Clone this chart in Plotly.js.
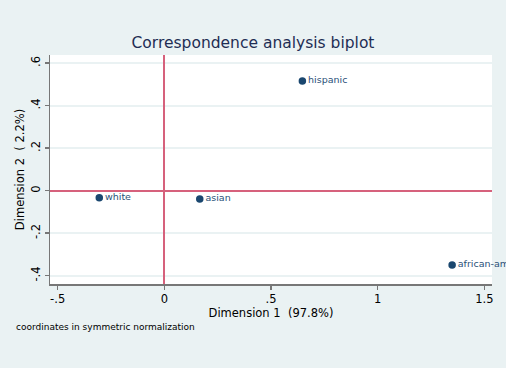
<!DOCTYPE html>
<html>
<head>
<meta charset="utf-8">
<script src="https://cdn.plot.ly/plotly-3.0.1.min.js"></script>
<style>html,body{margin:0;padding:0;background:#eaf2f3;}#chart{width:506px;height:368px;}</style>
</head>
<body>
<div id="chart"></div>
<script>
var categories = ["white", "asian", "hispanic", "african-american"];
var dim1 = [-0.305, 0.166, 0.647, 1.349];
var dim2 = [-0.033, -0.039, 0.516, -0.350];
var xTickVals = [-0.5, 0, 0.5, 1, 1.5];
var xTickText = ["-.5", "0", ".5", "1", "1.5"];
var yTickVals = [-0.4, -0.2, 0, 0.2, 0.4, 0.6];
var yTickText = ["-.4", "-.2", "0", ".2", ".4", ".6"];

var font = "DejaVu Sans, Verdana, sans-serif";
var trace = {
  x: dim1, y: dim2, text: categories,
  type: "scatter", mode: "markers+text",
  textposition: "middle right",
  cliponaxis: false,
  marker: {color: "#1a476f", size: 7.5},
  textfont: {family: font, size: 9.5, color: "#2a5078"},
  hoverinfo: "none"
};
var layout = {
  width: 506, height: 368,
  paper_bgcolor: "#eaf2f3", plot_bgcolor: "#ffffff",
  margin: {l: 50, r: 14, t: 55, b: 84},
  showlegend: false,
  font: {family: font, color: "#000"},
  title: {text: "Correspondence analysis biplot", font: {family: font, size: 15.5, color: "#1e2d53"}, x: 0.5, xanchor: "center", y: 0.885, yanchor: "middle"},
  xaxis: {
    range: [-0.536, 1.536], tickvals: xTickVals, ticktext: xTickText,
    showgrid: false, zeroline: true, zerolinecolor: "#d6617c", zerolinewidth: 2,
    showline: true, linecolor: "#777777", linewidth: 1.5,
    ticks: "outside", ticklen: 4, tickwidth: 1.5, tickcolor: "#777777",
    tickfont: {family: font, size: 11.5, color: "#000"},
    title: {text: "Dimension 1  (97.8%)", font: {family: font, size: 11.5, color: "#000"}, standoff: 2}
  },
  yaxis: {
    range: [-0.439, 0.6386], tickvals: yTickVals, ticktext: yTickText,
    tickangle: -90,
    showgrid: true, gridcolor: "#eaf2f3", gridwidth: 2,
    zeroline: true, zerolinecolor: "#d6617c", zerolinewidth: 2,
    showline: true, linecolor: "#777777", linewidth: 1.5,
    ticks: "outside", ticklen: 4, tickwidth: 1.5, tickcolor: "#777777",
    tickfont: {family: font, size: 11.5, color: "#000"},
    title: {text: "Dimension 2  ( 2.2%)", font: {family: font, size: 11.5, color: "#000"}, standoff: 2}
  },
  annotations: [{
    text: "coordinates in symmetric normalization", xref: "paper", yref: "paper",
    x: -0.081, y: -0.188, xanchor: "left", yanchor: "middle", showarrow: false,
    font: {family: font, size: 9, color: "#000"}
  }]
};
Plotly.newPlot("chart", [trace], layout, {displayModeBar: false, staticPlot: true});
</script>
</body>
</html>
